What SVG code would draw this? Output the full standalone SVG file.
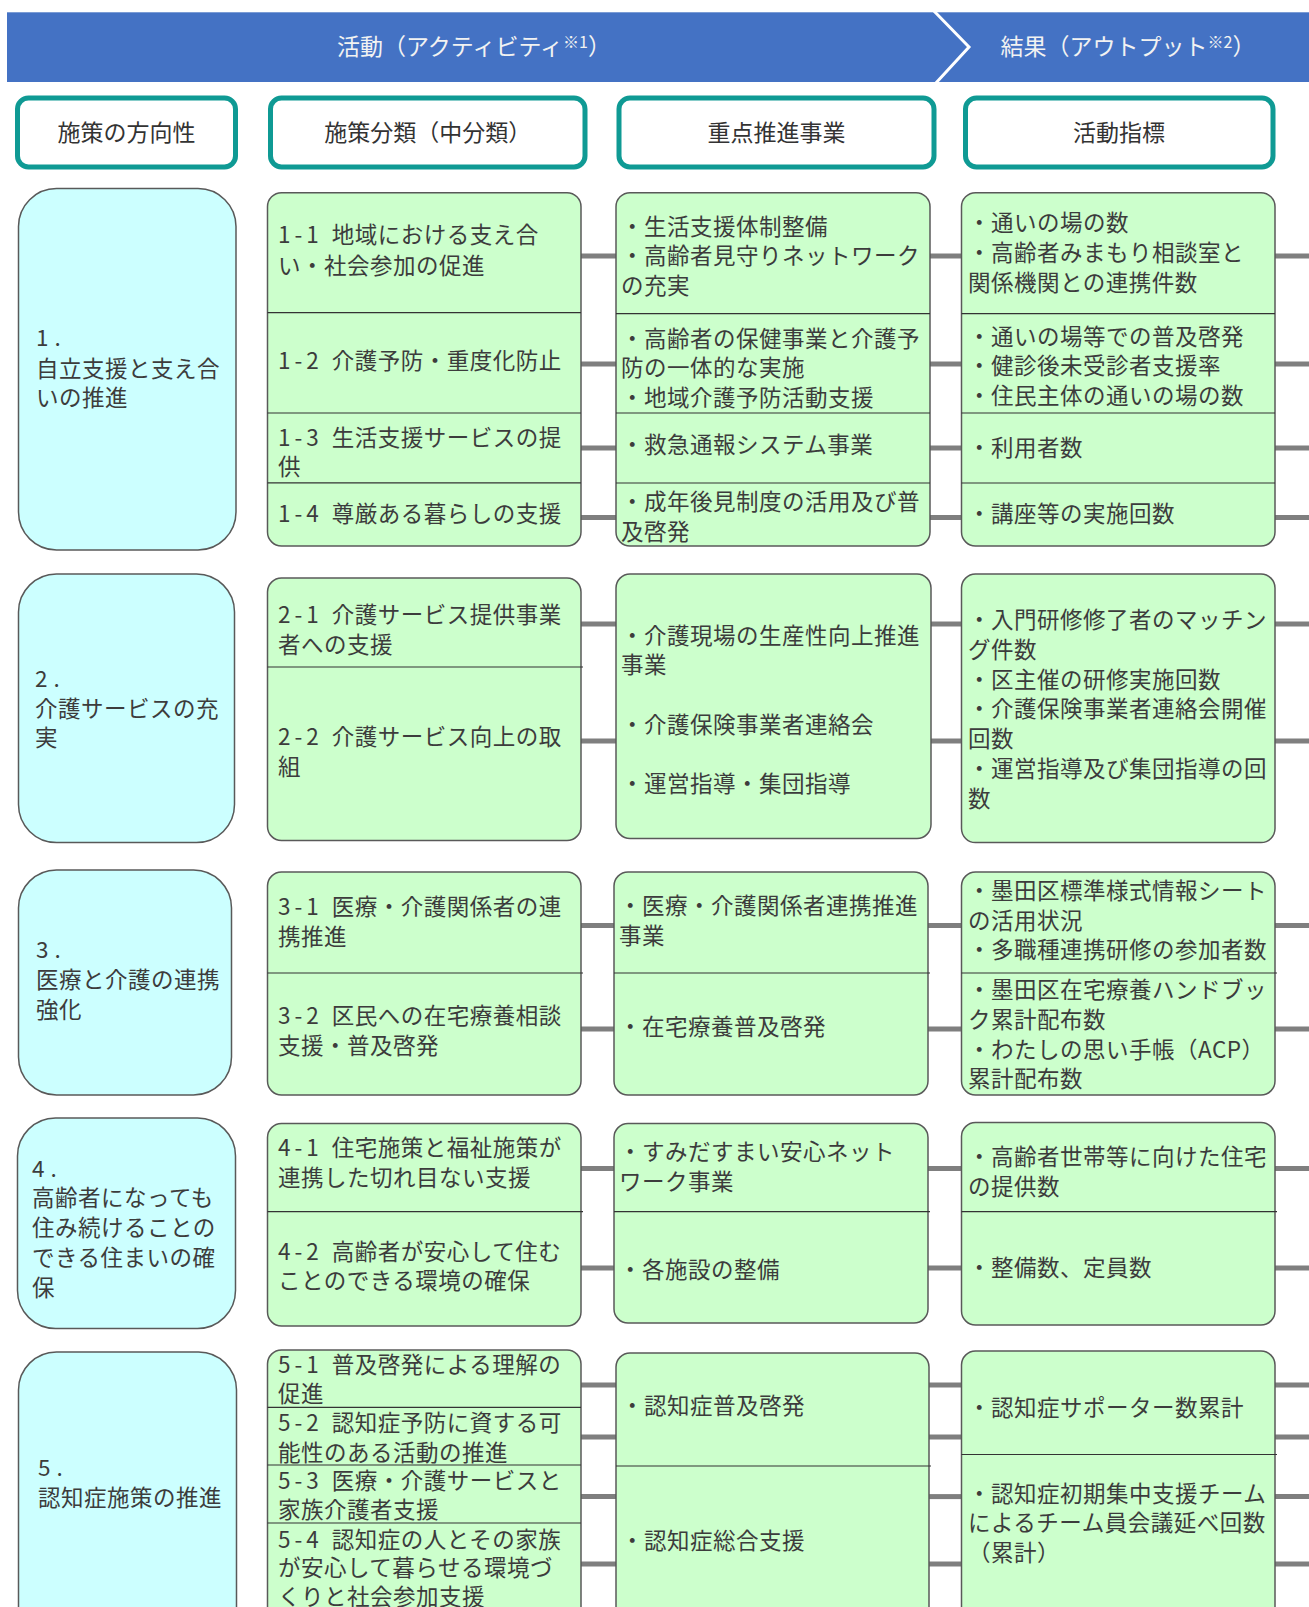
<svg xmlns="http://www.w3.org/2000/svg" width="1309" height="1607" viewBox="0 0 1309 1607">
<style>
.t{font-family:"Noto Sans CJK JP","Noto Sans",sans-serif;font-size:22.5px;letter-spacing:0.5px;fill:#3c3c3c}
.n{letter-spacing:4px}
.d{letter-spacing:6px}
.h{font-family:"Noto Sans CJK JP","Noto Sans",sans-serif;font-size:23px;fill:#333;text-anchor:middle}
.b{font-family:"Noto Sans CJK JP","Noto Sans",sans-serif;font-size:23px;fill:#f2f2f2;text-anchor:middle}
.hd{fill:#fff;stroke:#0f9a94;stroke-width:5}
.cy{fill:#ccffff;stroke:#595959;stroke-width:1.5}
.gr{fill:#ccffcc;stroke:#595959;stroke-width:1.5}
.dv{stroke:#333;stroke-width:1.2}
.cn{stroke:#7f7f7f;stroke-width:5}
</style>
<rect width="1309" height="1607" fill="#fff"/>
<g id="banner">
<rect x="7" y="12.3" width="1302" height="69.7" fill="#4472c4"/>
<polyline points="933,10 969,47 935,84" fill="none" stroke="#fff" stroke-width="3"/>
<text class="b" x="474" y="55">活動（アクティビティ<tspan font-size="16" dy="-7">※1</tspan><tspan dy="7">）</tspan></text>
<text class="b" x="1128" y="55">結果（アウトプット<tspan font-size="16" dy="-7">※2</tspan><tspan dy="7">）</tspan></text>
</g>
<g id="headers">
<g id="h1"><rect class="hd" x="17.5" y="98" width="218" height="69" rx="11"/><text class="h" x="126.6" y="141">施策の方向性</text></g>
<g id="h2"><rect class="hd" x="270.5" y="98" width="314.5" height="69" rx="11"/><text class="h" x="427.8" y="141">施策分類（中分類）</text></g>
<g id="h3"><rect class="hd" x="619" y="98" width="315" height="69" rx="11"/><text class="h" x="776.5" y="141">重点推進事業</text></g>
<g id="h4"><rect class="hd" x="965.5" y="98" width="307.5" height="69" rx="11"/><text class="h" x="1119" y="141">活動指標</text></g>
</g>
<g id="connectors">
<line class="cn" x1="581" y1="256" x2="616" y2="256"/><line class="cn" x1="930" y1="256" x2="961" y2="256"/><line class="cn" x1="1275" y1="256" x2="1309" y2="256"/>
<line class="cn" x1="581" y1="364" x2="616" y2="364"/><line class="cn" x1="930" y1="364" x2="961" y2="364"/><line class="cn" x1="1275" y1="364" x2="1309" y2="364"/>
<line class="cn" x1="581" y1="448" x2="616" y2="448"/><line class="cn" x1="930" y1="448" x2="961" y2="448"/><line class="cn" x1="1275" y1="448" x2="1309" y2="448"/>
<line class="cn" x1="581" y1="517.5" x2="616" y2="517.5"/><line class="cn" x1="930" y1="517.5" x2="961" y2="517.5"/><line class="cn" x1="1275" y1="517.5" x2="1309" y2="517.5"/>
<line class="cn" x1="581" y1="624" x2="616" y2="624"/><line class="cn" x1="930" y1="624" x2="961" y2="624"/><line class="cn" x1="1275" y1="624" x2="1309" y2="624"/>
<line class="cn" x1="581" y1="741" x2="616" y2="741"/><line class="cn" x1="930" y1="741" x2="961" y2="741"/><line class="cn" x1="1275" y1="741" x2="1309" y2="741"/>
<line class="cn" x1="581" y1="925.6" x2="614" y2="925.6"/><line class="cn" x1="928" y1="925.6" x2="961" y2="925.6"/><line class="cn" x1="1275" y1="925.6" x2="1309" y2="925.6"/>
<line class="cn" x1="581" y1="1029" x2="614" y2="1029"/><line class="cn" x1="928" y1="1029" x2="961" y2="1029"/><line class="cn" x1="1275" y1="1029" x2="1309" y2="1029"/>
<line class="cn" x1="581" y1="1168.6" x2="614" y2="1168.6"/><line class="cn" x1="928" y1="1168.6" x2="961" y2="1168.6"/><line class="cn" x1="1275" y1="1168.6" x2="1309" y2="1168.6"/>
<line class="cn" x1="581" y1="1268" x2="614" y2="1268"/><line class="cn" x1="928" y1="1268" x2="961" y2="1268"/><line class="cn" x1="1275" y1="1268" x2="1309" y2="1268"/>
<line class="cn" x1="581" y1="1385" x2="616" y2="1385"/><line class="cn" x1="929" y1="1385" x2="961" y2="1385"/><line class="cn" x1="1275" y1="1385" x2="1309" y2="1385"/>
<line class="cn" x1="581" y1="1437" x2="616" y2="1437"/><line class="cn" x1="929" y1="1437" x2="961" y2="1437"/><line class="cn" x1="1275" y1="1437" x2="1309" y2="1437"/>
<line class="cn" x1="581" y1="1496.6" x2="616" y2="1496.6"/><line class="cn" x1="929" y1="1496.6" x2="961" y2="1496.6"/><line class="cn" x1="1275" y1="1496.6" x2="1309" y2="1496.6"/>
<line class="cn" x1="581" y1="1564" x2="616" y2="1564"/><line class="cn" x1="929" y1="1564" x2="961" y2="1564"/><line class="cn" x1="1275" y1="1564" x2="1309" y2="1564"/>
</g>
<g id="row1">
<g id="r1c1"><rect class="cy" x="18.5" y="188.6" width="217.5" height="361.4" rx="38"/>
<text class="t d" x="36" y="346">1.</text><text class="t" x="36" y="377">自立支援と支え合</text><text class="t" x="36" y="406">いの推進</text></g>
<g id="r1c2"><rect class="gr" x="267.5" y="192.7" width="313.5" height="353.3" rx="14"/>
<line class="dv" x1="267.5" y1="312.6" x2="581" y2="312.6"/><line class="dv" x1="267.5" y1="413" x2="581" y2="413"/><line class="dv" x1="267.5" y1="482.8" x2="581" y2="482.8"/>
<text class="t" x="278" y="243"><tspan class="n">1-1 </tspan>地域における支え合</text><text class="t" x="278" y="273.5">い・社会参加の促進</text>
<text class="t" x="278" y="369"><tspan class="n">1-2 </tspan>介護予防・重度化防止</text>
<text class="t" x="278" y="446"><tspan class="n">1-3 </tspan>生活支援サービスの提</text><text class="t" x="278" y="474.5">供</text>
<text class="t" x="278" y="521.5"><tspan class="n">1-4 </tspan>尊厳ある暮らしの支援</text></g>
<g id="r1c3"><rect class="gr" x="616" y="192.7" width="314" height="353.3" rx="14"/>
<line class="dv" x1="616" y1="313.7" x2="930" y2="313.7"/><line class="dv" x1="616" y1="413" x2="930" y2="413"/><line class="dv" x1="616" y1="483" x2="930" y2="483"/>
<text class="t" x="621" y="234.5">・生活支援体制整備</text><text class="t" x="621" y="264">・高齢者見守りネットワーク</text><text class="t" x="621" y="294">の充実</text>
<text class="t" x="621" y="347">・高齢者の保健事業と介護予</text><text class="t" x="621" y="376">防の一体的な実施</text><text class="t" x="621" y="406">・地域介護予防活動支援</text>
<text class="t" x="621" y="453">・救急通報システム事業</text>
<text class="t" x="621" y="510">・成年後見制度の活用及び普</text><text class="t" x="621" y="540">及啓発</text></g>
<g id="r1c4"><rect class="gr" x="961.5" y="192.7" width="313.5" height="353.3" rx="14"/>
<line class="dv" x1="961.5" y1="313.7" x2="1275" y2="313.7"/><line class="dv" x1="961.5" y1="413" x2="1275" y2="413"/><line class="dv" x1="961.5" y1="483" x2="1275" y2="483"/>
<text class="t" x="968" y="231">・通いの場の数</text><text class="t" x="968" y="261">・高齢者みまもり相談室と</text><text class="t" x="968" y="291">関係機関との連携件数</text>
<text class="t" x="968" y="345">・通いの場等での普及啓発</text><text class="t" x="968" y="374">・健診後未受診者支援率</text><text class="t" x="968" y="404">・住民主体の通いの場の数</text>
<text class="t" x="968" y="456">・利用者数</text>
<text class="t" x="968" y="522">・講座等の実施回数</text></g>
</g>
<g id="row2">
<g id="r2c1"><rect class="cy" x="18.5" y="574" width="216" height="268.6" rx="38"/>
<text class="t d" x="35" y="686.6">2.</text><text class="t" x="35" y="717">介護サービスの充</text><text class="t" x="35" y="746">実</text></g>
<g id="r2c2"><rect class="gr" x="267.5" y="578" width="313.5" height="262.5" rx="14"/>
<line class="dv" x1="267.5" y1="667" x2="583" y2="667"/>
<text class="t" x="278" y="623"><tspan class="n">2-1 </tspan>介護サービス提供事業</text><text class="t" x="278" y="653">者への支援</text>
<text class="t" x="278" y="745"><tspan class="n">2-2 </tspan>介護サービス向上の取</text><text class="t" x="278" y="775">組</text></g>
<g id="r2c3"><rect class="gr" x="616" y="574" width="315" height="264.5" rx="14"/>
<text class="t" x="621" y="643.5">・介護現場の生産性向上推進</text><text class="t" x="621" y="673">事業</text>
<text class="t" x="621" y="733">・介護保険事業者連絡会</text>
<text class="t" x="621" y="792">・運営指導・集団指導</text></g>
<g id="r2c4"><rect class="gr" x="961.5" y="574" width="313.5" height="268.6" rx="14"/>
<text class="t" x="968" y="628">・入門研修修了者のマッチン</text><text class="t" x="968" y="658">グ件数</text>
<text class="t" x="968" y="687.6">・区主催の研修実施回数</text>
<text class="t" x="968" y="717">・介護保険事業者連絡会開催</text><text class="t" x="968" y="747">回数</text>
<text class="t" x="968" y="777">・運営指導及び集団指導の回</text><text class="t" x="968" y="806.5">数</text></g>
</g>
<g id="row3">
<g id="r3c1"><rect class="cy" x="18.5" y="870" width="213" height="225" rx="38"/>
<text class="t d" x="36" y="958">3.</text><text class="t" x="36" y="988">医療と介護の連携</text><text class="t" x="36" y="1018">強化</text></g>
<g id="r3c2"><rect class="gr" x="267.5" y="872" width="313.5" height="223" rx="14"/>
<line class="dv" x1="267.5" y1="973" x2="583" y2="973"/>
<text class="t" x="278" y="915"><tspan class="n">3-1 </tspan>医療・介護関係者の連</text><text class="t" x="278" y="945">携推進</text>
<text class="t" x="278" y="1024"><tspan class="n">3-2 </tspan>区民への在宅療養相談</text><text class="t" x="278" y="1053.6">支援・普及啓発</text></g>
<g id="r3c3"><rect class="gr" x="614" y="872" width="314" height="223" rx="14"/>
<line class="dv" x1="614" y1="973" x2="930" y2="973"/>
<text class="t" x="619" y="914">・医療・介護関係者連携推進</text><text class="t" x="619" y="944">事業</text>
<text class="t" x="619" y="1035">・在宅療養普及啓発</text></g>
<g id="r3c4"><rect class="gr" x="961.5" y="872" width="313.5" height="223" rx="14"/>
<line class="dv" x1="961.5" y1="973" x2="1277" y2="973"/>
<text class="t" x="968" y="899">・墨田区標準様式情報シート</text><text class="t" x="968" y="928.5">の活用状況</text>
<text class="t" x="968" y="958">・多職種連携研修の参加者数</text>
<text class="t" x="968" y="998">・墨田区在宅療養ハンドブッ</text><text class="t" x="968" y="1028">ク累計配布数</text>
<text class="t" x="968" y="1058">・わたしの思い手帳（ACP）</text><text class="t" x="968" y="1087">累計配布数</text></g>
</g>
<g id="row4">
<g id="r4c1"><rect class="cy" x="17.5" y="1118" width="218" height="210.5" rx="38"/>
<text class="t d" x="32" y="1176.6">4.</text><text class="t" x="32" y="1206">高齢者になっても</text><text class="t" x="32" y="1236">住み続けることの</text><text class="t" x="32" y="1266">できる住まいの確</text><text class="t" x="32" y="1295.5">保</text></g>
<g id="r4c2"><rect class="gr" x="267.5" y="1123.5" width="313.5" height="202.5" rx="14"/>
<line class="dv" x1="267.5" y1="1211.6" x2="583" y2="1211.6"/>
<text class="t" x="278" y="1156"><tspan class="n">4-1 </tspan>住宅施策と福祉施策が</text><text class="t" x="278" y="1186">連携した切れ目ない支援</text>
<text class="t" x="278" y="1259.6"><tspan class="n">4-2 </tspan>高齢者が安心して住む</text><text class="t" x="278" y="1289">ことのできる環境の確保</text></g>
<g id="r4c3"><rect class="gr" x="614" y="1123.5" width="314" height="199.5" rx="14"/>
<line class="dv" x1="614" y1="1211.6" x2="930" y2="1211.6"/>
<text class="t" x="619" y="1160">・すみだすまい安心ネット</text><text class="t" x="619" y="1190">ワーク事業</text>
<text class="t" x="619" y="1278">・各施設の整備</text></g>
<g id="r4c4"><rect class="gr" x="961.5" y="1122.5" width="313.5" height="202.5" rx="14"/>
<line class="dv" x1="961.5" y1="1211.6" x2="1277" y2="1211.6"/>
<text class="t" x="968" y="1165">・高齢者世帯等に向けた住宅</text><text class="t" x="968" y="1195">の提供数</text>
<text class="t" x="968" y="1276">・整備数、定員数</text></g>
</g>
<g id="row5">
<g id="r5c1"><rect class="cy" x="18.5" y="1352" width="218" height="300" rx="38"/>
<text class="t d" x="38" y="1476">5.</text><text class="t" x="38" y="1505.6">認知症施策の推進</text></g>
<g id="r5c2"><rect class="gr" x="267.5" y="1350" width="313.5" height="300" rx="14"/>
<line class="dv" x1="267.5" y1="1407.4" x2="581" y2="1407.4"/><line class="dv" x1="267.5" y1="1465" x2="581" y2="1465"/><line class="dv" x1="267.5" y1="1523" x2="581" y2="1523"/>
<text class="t" x="278" y="1373.4"><tspan class="n">5-1 </tspan>普及啓発による理解の</text><text class="t" x="278" y="1402">促進</text>
<text class="t" x="278" y="1431"><tspan class="n">5-2 </tspan>認知症予防に資する可</text><text class="t" x="278" y="1460.5">能性のある活動の推進</text>
<text class="t" x="278" y="1489"><tspan class="n">5-3 </tspan>医療・介護サービスと</text><text class="t" x="278" y="1518">家族介護者支援</text>
<text class="t" x="278" y="1548"><tspan class="n">5-4 </tspan>認知症の人とその家族</text><text class="t" x="278" y="1576">が安心して暮らせる環境づ</text><text class="t" x="278" y="1605">くりと社会参加支援</text></g>
<g id="r5c3"><rect class="gr" x="616" y="1353" width="313" height="300" rx="14"/>
<line class="dv" x1="616" y1="1466" x2="931" y2="1466"/>
<text class="t" x="621" y="1414">・認知症普及啓発</text>
<text class="t" x="621" y="1548.7">・認知症総合支援</text></g>
<g id="r5c4"><rect class="gr" x="961.5" y="1351" width="313.5" height="300" rx="14"/>
<line class="dv" x1="961.5" y1="1454.5" x2="1277" y2="1454.5"/>
<text class="t" x="968" y="1416">・認知症サポーター数累計</text>
<text class="t" x="968" y="1501.5">・認知症初期集中支援チーム</text><text class="t" x="968" y="1531">によるチーム員会議延べ回数</text><text class="t" x="968" y="1561">（累計）</text></g>
</g>
</svg>
